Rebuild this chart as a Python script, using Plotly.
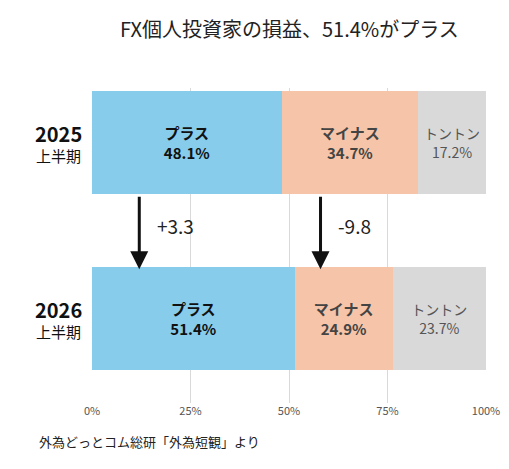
import plotly.graph_objects as go

periods = ["2025", "2026"]
series = ["プラス", "マイナス", "トントン"]
values = {"プラス": [48.1, 51.4], "マイナス": [34.7, 24.9], "トントン": [17.2, 23.7]}
colors = {"プラス": "#87cceb", "マイナス": "#f6c5a9", "トントン": "#d9d9d9"}
textcol = {"プラス": "#111", "マイナス": "#444", "トントン": "#555"}
changes = ["+3.3", "-9.8"]
xticks = [0, 25, 50, 75, 100]

fig = go.Figure()
ypos = [0, 1]
for s in series:
    bold = s != "トントン"
    txt = [(f"<b>{s}<br>{v}%</b>" if bold else f"{s}<br>{v}%") for v in values[s]]
    fig.add_trace(go.Bar(
        x=values[s], y=ypos, orientation="h", marker=dict(color=colors[s], line=dict(width=0)),
        text=txt, textposition="inside", insidetextanchor="middle",
        textfont=dict(size=15 if bold else 14, color=textcol[s]), width=0.59, showlegend=False,
        hoverinfo="skip"))

arrow_x = [12, 58]
for ax, c in zip(arrow_x, changes):
    fig.add_annotation(x=ax, y=0.72, ax=ax, ay=0.3, xref="x", yref="y", axref="x", ayref="y",
                       showarrow=True, arrowhead=2, arrowsize=1.2, arrowwidth=3, arrowcolor="#111", text="")
    fig.add_annotation(x=ax + 4, y=0.47, xref="x", yref="y", text=c, showarrow=False,
                       xanchor="left", font=dict(size=19, color="#222"))

# y labels
for y, p in zip(ypos, periods):
    fig.add_annotation(x=-0.02, y=y, xref="paper", yref="y", xanchor="right", showarrow=False,
                       text=f"<b><span style='font-size:20px'>{p}</span></b><br>上半期",
                       font=dict(size=15, color="#111"))

fig.add_annotation(x=0.5, y=1.0, xref="paper", yref="paper", yshift=60, yanchor="middle",
                   text="FX個人投資家の損益、51.4%がプラス",
                   showarrow=False, font=dict(size=20, color="#222"))
fig.add_annotation(x=-0.14, y=0, xref="paper", yref="paper", yshift=-50, xanchor="left",
                   text="外為どっとコム総研「外為短観」より", showarrow=False, font=dict(size=13, color="#222"))

fig.update_layout(
    barmode="stack", width=509, height=469, paper_bgcolor="white", plot_bgcolor="white",
    margin=dict(l=84, r=31, t=80, b=74, autoexpand=False),
    font=dict(family="Noto Sans CJK JP"),
    xaxis=dict(range=[0, 100], tickvals=xticks, ticktext=[f"{t}%" for t in xticks], automargin=False,
               showgrid=True, gridcolor="#d9d9d9", zeroline=False, tickfont=dict(size=11, color="#555")),
    yaxis=dict(range=[1.48, -0.31], showticklabels=False, automargin=False,
               showgrid=False, zeroline=False),
)
fig.write_html("out.html")
